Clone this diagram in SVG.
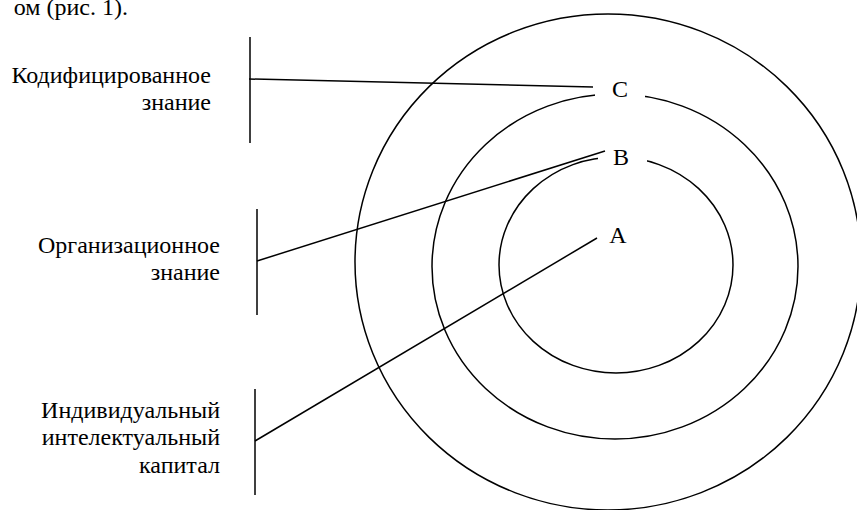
<svg xmlns="http://www.w3.org/2000/svg" width="857" height="510" viewBox="0 0 857 510">
<style>
text{font-family:"Liberation Serif","Times New Roman",serif;font-size:24px;fill:#000}
.r{text-anchor:end}
.m{text-anchor:middle}
.s{fill:none;stroke:#000;stroke-width:1.5}
.mask{fill:#fff;stroke:none}
</style>
<rect width="857" height="510" fill="#fff"/>
<text class="r" x="128" y="15">ом (рис. 1).</text>
<g id="circles">
<ellipse id="outer" class="s" cx="608" cy="262" rx="253" ry="248"/>
<ellipse id="middle" class="s" cx="615" cy="266.5" rx="183" ry="172.5"/>
<ellipse id="inner" class="s" cx="616" cy="265" rx="117" ry="108"/>
</g>
<g id="brackets">
<line class="s" x1="250" y1="37" x2="250" y2="143"/>
<line class="s" x1="257" y1="209" x2="257" y2="315"/>
<line class="s" x1="255" y1="389" x2="255" y2="495"/>
</g>
<g id="node-C">
<rect class="mask" x="595" y="74" width="50" height="32"/>
<text class="m" x="620" y="97">C</text>
</g>
<g id="node-B">
<rect class="mask" x="598" y="142" width="49" height="30"/>
<text class="m" x="621" y="165">B</text>
</g>
<g id="node-A">
<text class="m" x="618" y="243">A</text>
</g>
<g id="label-codified">
<text class="r" x="211" y="83">Кодифицированное</text>
<text class="r" x="211" y="110">знание</text>
</g>
<g id="label-organizational">
<text class="r" x="220" y="253">Организационное</text>
<text class="r" x="220" y="280">знание</text>
</g>
<g id="label-individual">
<text class="r" x="220" y="418">Индивидуальный</text>
<text class="r" x="220" y="445">интелектуальный</text>
<text class="r" x="220" y="473">капитал</text>
</g>
<g id="connectors">
<line class="s" x1="249" y1="79" x2="593" y2="87"/>
<line class="s" x1="257" y1="261" x2="605" y2="151"/>
<line class="s" x1="255" y1="441" x2="597" y2="238"/>
</g>
</svg>
